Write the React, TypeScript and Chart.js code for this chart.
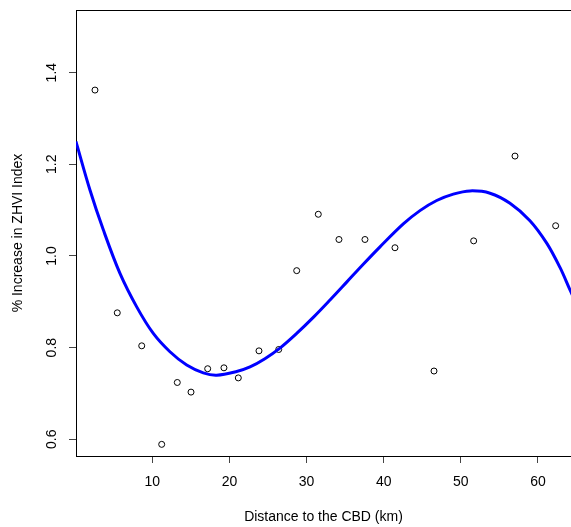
import React, { useEffect, useRef } from "react";
import { Chart, registerables } from "chart.js";

Chart.register(...registerables);

const distanceKm = [2.57, 5.46, 8.63, 11.22, 13.24, 15.02, 17.18, 19.29, 21.15, 23.83, 26.39, 28.72, 31.52, 34.2, 37.57, 41.46, 46.52, 51.66, 57.02, 62.29];
const zhviIncrease = [1.362, 0.876, 0.804, 0.589, 0.724, 0.703, 0.754, 0.756, 0.734, 0.793, 0.796, 0.968, 1.091, 1.036, 1.036, 1.018, 0.749, 1.033, 1.218, 1.066];

const fitDistance = [0.1, 1.92, 3.65, 5.81, 7.98, 10.13, 12.29, 14.46, 16.61, 18.35, 20.94, 22.67, 24.6, 26.55, 28.72, 30.87, 33.04, 35.2, 37.35, 39.52, 42.54, 44.7, 46.87, 49.02, 51.19, 53.78, 56.37, 58.96, 61.13, 62.85, 64.15, 64.6];
const fitIncrease = [1.25, 1.144, 1.057, 0.962, 0.889, 0.831, 0.791, 0.762, 0.745, 0.74, 0.748, 0.758, 0.776, 0.799, 0.831, 0.866, 0.904, 0.943, 0.982, 1.02, 1.07, 1.099, 1.121, 1.135, 1.142, 1.137, 1.115, 1.077, 1.028, 0.975, 0.926, 0.91];

const xTicks = [10, 20, 30, 40, 50, 60];
const yTicks = [0.6, 0.8, 1.0, 1.2, 1.4];

const xTitle = "Distance to the CBD (km)";
const yTitle = "% Increase in ZHVI Index";

const FONT = "'Liberation Sans', Arial, Helvetica, sans-serif";

const topBorder = {
  id: "topBorder",
  afterDraw(chart: any) {
    const { ctx, chartArea } = chart;
    ctx.save();
    ctx.strokeStyle = "#000";
    ctx.lineWidth = 1;
    ctx.beginPath();
    ctx.moveTo(chartArea.left, chartArea.top + 0.5);
    ctx.lineTo(chartArea.right, chartArea.top + 0.5);
    ctx.stroke();
    ctx.restore();
  },
};

const zeroPad = (s: any) => {
  s.paddingTop = 0;
  s.paddingBottom = 0;
  s.paddingLeft = 0;
  s.paddingRight = 0;
};

export default function App() {
  const ref = useRef<HTMLCanvasElement>(null);
  useEffect(() => {
    if (!ref.current) return;
    const chart = new Chart(ref.current, {
      type: "scatter",
      data: {
        datasets: [
          {
            label: "data",
            data: distanceKm.map((x, i) => ({ x, y: zhviIncrease[i] })),
            pointStyle: "circle",
            pointRadius: 3,
            pointBorderWidth: 1,
            pointBorderColor: "#000",
            pointBackgroundColor: "rgba(0,0,0,0)",
            showLine: false,
            order: 2,
          },
          {
            label: "fit",
            data: fitDistance.map((x, i) => ({ x, y: fitIncrease[i] })),
            showLine: true,
            borderColor: "#0000ff",
            borderWidth: 3,
            pointRadius: 0,
            tension: 0.35,
            order: 1,
          },
        ],
      },
      options: {
        responsive: false,
        animation: false,
        layout: { autoPadding: false, padding: { top: 10, left: 0, right: 0, bottom: 0 } },
        plugins: { legend: { display: false }, tooltip: { enabled: false } },
        scales: {
          x: {
            type: "linear",
            min: 0.11,
            max: 64.28,
            afterBuildTicks: (s: any) => {
              s.ticks = xTicks.map((v) => ({ value: v }));
            },
            afterFit: (s: any) => {
              s.height = 71;
              zeroPad(s);
            },
            ticks: {
              color: "#000",
              font: { family: FONT, size: 14 },
              padding: 11,
              maxRotation: 0,
              autoSkip: false,
            },
            grid: { drawOnChartArea: false, drawTicks: true, tickLength: 7, tickColor: "#444", tickWidth: 1 },
            border: { display: true, color: "#000", width: 1 },
            title: { display: true, text: xTitle, color: "#000", font: { family: FONT, size: 14 }, padding: { top: 0, bottom: 1 } },
          },
          y: {
            type: "linear",
            min: 0.5636,
            max: 1.5367,
            afterBuildTicks: (s: any) => {
              s.ticks = yTicks.map((v) => ({ value: v }));
            },
            afterFit: (s: any) => {
              s.width = 76;
              zeroPad(s);
            },
            ticks: {
              color: "#000",
              font: { family: FONT, size: 14 },
              padding: 7,
              minRotation: 90,
              maxRotation: 90,
              crossAlign: "center",
              autoSkip: false,
              callback: (v: any) => Number(v).toFixed(1),
            },
            grid: { drawOnChartArea: false, drawTicks: true, tickLength: 7, tickColor: "#444", tickWidth: 1 },
            border: { display: true, color: "#000", width: 1 },
            title: { display: true, text: yTitle, color: "#000", font: { family: FONT, size: 14 }, padding: { top: 10, bottom: 0 } },
          },
        },
      },
      plugins: [topBorder],
    } as any);
    return () => chart.destroy();
  }, []);
  return (
    <div style={{ position: "absolute", left: 0, top: 0, width: 571, height: 527, background: "#fff" }}>
      <canvas ref={ref} width={571} height={527} style={{ display: "block" }} />
    </div>
  );
}
